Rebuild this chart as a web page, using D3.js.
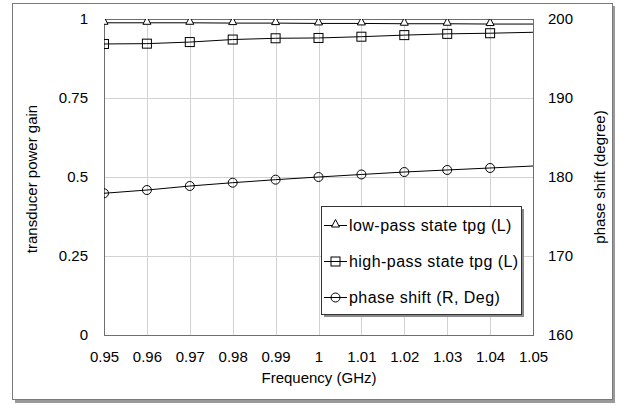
<!DOCTYPE html>
<html lang="en">
<head>
    <meta charset="UTF-8">
    <title>Transducer power gain and phase shift</title>
    <script src="https://d3js.org/d3.v7.min.js"></script>
    <style>
        body { margin: 0; background: #fff; }
        text { font-family: "Liberation Sans", Arial, sans-serif; fill: #000; }
        .tick text { font-size: 15px; }
    </style>
</head>
<body>
    <div id="chart"></div>
    <script>
        // frequency points (GHz)
        const freq = [0.95, 0.96, 0.97, 0.98, 0.99, 1.00, 1.01, 1.02, 1.03, 1.04, 1.05];
        // left axis: transducer power gain
        const lowPass  = [0.988, 0.988, 0.988, 0.987, 0.987, 0.986, 0.986, 0.985, 0.985, 0.984, 0.984];
        const highPass = [0.921, 0.922, 0.927, 0.935, 0.939, 0.940, 0.944, 0.949, 0.953, 0.955, 0.958];
        // right axis: phase shift in degrees
        const phase    = [177.94, 178.35, 178.86, 179.28, 179.66, 180.0, 180.32, 180.63, 180.89, 181.14, 181.39];

        const xTicks = [0.95, 0.96, 0.97, 0.98, 0.99, 1, 1.01, 1.02, 1.03, 1.04, 1.05];
        const yLeftTicks = [0, 0.25, 0.5, 0.75, 1];
        const yRightTicks = [160, 170, 180, 190, 200];

        const series = [
            { name: "low-pass state tpg (L)", values: lowPass, axis: "L", marker: "triangle" },
            { name: "high-pass state tpg (L)", values: highPass, axis: "L", marker: "square" },
            { name: "phase shift (R, Deg)", values: phase, axis: "R", marker: "circle" }
        ];

        const W = 619, H = 405;
        const plot = { left: 104, right: 533, top: 19, bottom: 335 };

        const svg = d3.select("#chart").append("svg")
            .attr("width", W).attr("height", H);

        // outer frame with shadow
        svg.append("rect").attr("x", 15).attr("y", 6).attr("width", 600).attr("height", 397)
            .attr("fill", "#9a9a9a");
        svg.append("rect").attr("x", 12.5).attr("y", 3.5).attr("width", 600).attr("height", 396)
            .attr("fill", "#fff").attr("stroke", "#7a7a7a");

        const x = d3.scaleLinear().domain([0.95, 1.05]).range([plot.left, plot.right]);
        const yL = d3.scaleLinear().domain([0, 1]).range([plot.bottom, plot.top]);
        const yR = d3.scaleLinear().domain([160, 200]).range([plot.bottom, plot.top]);

        // grid
        const grid = svg.append("g");
        grid.selectAll("line.v").data(xTicks).join("line")
            .attr("x1", d => Math.round(x(d)) + 0.5).attr("x2", d => Math.round(x(d)) + 0.5)
            .attr("y1", plot.top).attr("y2", plot.bottom)
            .attr("stroke", "#d2d2d2");
        grid.selectAll("line.h").data(yLeftTicks).join("line")
            .attr("y1", d => Math.round(yL(d)) + 0.5).attr("y2", d => Math.round(yL(d)) + 0.5)
            .attr("x1", plot.left).attr("x2", plot.right)
            .attr("stroke", "#d2d2d2");

        // axes (labels only)
        const axL = svg.append("g").attr("transform", `translate(${plot.left},0)`)
            .call(d3.axisLeft(yL).tickValues(yLeftTicks).tickFormat(d3.format("")).tickSize(0).tickPadding(16));
        const axR = svg.append("g").attr("transform", `translate(${plot.right},0)`)
            .call(d3.axisRight(yR).tickValues(yRightTicks).tickSize(0).tickPadding(15));
        const axB = svg.append("g").attr("transform", `translate(0,${plot.bottom})`)
            .call(d3.axisBottom(x).tickValues(xTicks).tickFormat(d3.format("")).tickSize(0).tickPadding(16));
        [axL, axR, axB].forEach(a => {
            a.select(".domain").remove();
            a.selectAll("text").attr("fill", "#000").style("font-family", "'Liberation Sans', Arial, sans-serif");
        });

        // plot border
        svg.append("rect")
            .attr("x", plot.left + 0.5).attr("y", plot.top + 0.5)
            .attr("width", plot.right - plot.left).attr("height", plot.bottom - plot.top)
            .attr("fill", "none").attr("stroke", "#6e6e6e");

        // axis titles
        svg.append("text")
            .attr("transform", `translate(37,${(plot.top + plot.bottom) / 2 + 2}) rotate(-90)`)
            .attr("text-anchor", "middle").attr("font-size", 15)
            .text("transducer power gain");
        svg.append("text")
            .attr("transform", `translate(605,${(plot.top + plot.bottom) / 2}) rotate(-90)`)
            .attr("text-anchor", "middle").attr("font-size", 15)
            .text("phase shift (degree)");
        svg.append("text")
            .attr("x", 319).attr("y", 383)
            .attr("text-anchor", "middle").attr("font-size", 15)
            .text("Frequency (GHz)");

        // clip to plot area
        svg.append("defs").append("clipPath").attr("id", "plotClip")
            .append("rect").attr("x", plot.left).attr("y", plot.top)
            .attr("width", plot.right - plot.left).attr("height", plot.bottom - plot.top);

        function drawMarker(g, type, cx, cy) {
            if (type === "triangle") {
                g.append("path").attr("d", `M${cx},${cy - 6}L${cx + 4},${cy + 1.5}L${cx - 4},${cy + 1.5}Z`)
                    .attr("fill", "#fff").attr("stroke", "#000");
            } else if (type === "square") {
                g.append("rect").attr("x", cx - 4.5).attr("y", cy - 4.5).attr("width", 9).attr("height", 9)
                    .attr("fill", "none").attr("stroke", "#000");
            } else {
                g.append("circle").attr("cx", cx).attr("cy", cy).attr("r", 4.5)
                    .attr("fill", "none").attr("stroke", "#000");
            }
        }

        const dataG = svg.append("g").attr("clip-path", "url(#plotClip)");
        series.forEach(s => {
            const y = s.axis === "L" ? yL : yR;
            const line = d3.line().x((d, i) => x(freq[i])).y(d => y(d));
            dataG.append("path").datum(s.values)
                .attr("d", line).attr("fill", "none").attr("stroke", "#000").attr("stroke-width", 1);
            // markers at every point except the last one
            s.values.slice(0, -1).forEach((v, i) => drawMarker(dataG, s.marker, x(freq[i]), y(v)));
        });

        // legend
        const lg = { x: 321, y: 206, w: 200, h: 108 };
        svg.append("rect").attr("x", lg.x + 3).attr("y", lg.y + 3).attr("width", lg.w).attr("height", lg.h)
            .attr("fill", "#8a8a8a");
        svg.append("rect").attr("x", lg.x + 0.5).attr("y", lg.y + 0.5).attr("width", lg.w).attr("height", lg.h)
            .attr("fill", "#fff").attr("stroke", "#333");
        const rowY = [225, 261, 297];
        series.forEach((s, i) => {
            const g = svg.append("g");
            g.append("line").attr("x1", lg.x + 3).attr("x2", lg.x + 26)
                .attr("y1", rowY[i] + 0.5).attr("y2", rowY[i] + 0.5).attr("stroke", "#000");
            drawMarker(g, s.marker, lg.x + 14.5, rowY[i] + 0.5);
            g.append("text").attr("x", lg.x + 28).attr("y", rowY[i]).attr("dy", "0.35em")
                .attr("font-size", 16).attr("letter-spacing", "0.45px").text(s.name);
        });
    </script>
</body>
</html>
